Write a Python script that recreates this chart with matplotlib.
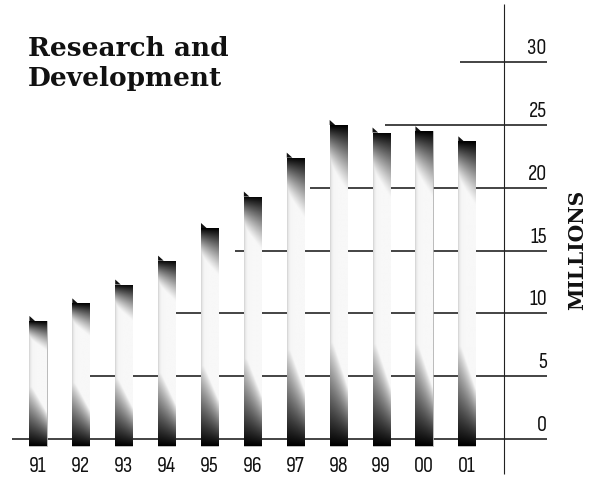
import numpy as np
import matplotlib
matplotlib.use('Agg')
import matplotlib.pyplot as plt
from matplotlib.patches import Polygon

# R&D spending, millions
years = ['91', '92', '93', '94', '95', '96', '97', '98', '99', '00', '01']
rd_millions = [9.4, 10.8, 12.3, 14.2, 16.8, 19.3, 22.4, 25.0, 24.4, 24.5, 23.7]
y_ticks = [0, 5, 10, 15, 20, 25, 30]

# where each horizontal rule starts (in bar-index units), stepped like the print
grid_start = [-0.61, 1.12, 3.10, 4.59, 6.34, 8.09, 9.84]
grid_end = 11.86
rule_x = 10.86

TITLE_FONT = ['DejaVu Serif']
NUM_FONT = ['Sofia Sans Condensed', 'Asap Condensed', 'DejaVu Sans']
BAR_W = 0.40
BAR_FLOOR = -0.55


def bar_shade(v, nx=40, ny=300):
    """Darkness map: heavy black foot, dark cap, pale middle."""
    h = v - BAR_FLOOR
    s = np.linspace(0, 1, nx)[None, :]
    u = np.linspace(h, 0, ny)[:, None]          # distance from bar bottom (row 0 = top)
    foot = 2.5 + 0.22 * v
    d_b = np.clip(1 - u / (foot * (1.15 - 0.55 * s)), 0, 1) ** 0.9
    cap = 0.5 + 0.17 * v
    d_t = np.clip(1 - (h - u) / (cap * (0.7 + 0.5 * s)), 0, 1) ** 1.3
    edge = 0.15 * np.exp(-s / 0.08)
    return np.maximum(np.maximum(d_b, d_t), 0.03 + edge)


fig = plt.figure(figsize=(5.9, 4.81), dpi=100)
ax = fig.add_axes([0, 0, 1, 1])
ax.set_axis_off()

x = np.arange(len(years))

# horizontal rules behind the bars
for t, xs in zip(y_ticks, grid_start):
    ax.hlines(t, xs, grid_end, color='#111111', lw=1.1, zorder=1)
    ax.text(grid_end, t + 0.4, str(t), ha='right', va='bottom', fontsize=16,
            fontweight=600, family=NUM_FONT, color='#111111')
ax.vlines(rule_x, -2.8, 34.6, color='#222222', lw=0.8, zorder=1)

bars = ax.bar(x, np.array(rd_millions) - BAR_FLOOR, BAR_W, bottom=BAR_FLOOR,
              facecolor='white', edgecolor='#a0a0a0', linewidth=0.5, zorder=2)
for rect, v in zip(bars, rd_millions):
    x0 = rect.get_x()
    im = ax.imshow(bar_shade(v), cmap='gray_r', vmin=0, vmax=1, aspect='auto',
                   extent=[x0, x0 + BAR_W, BAR_FLOOR, v], zorder=2.5,
                   interpolation='bilinear')
    im.set_clip_path(rect)
    # the little slanted flag on the top-left corner
    ax.add_patch(Polygon([[x0, v], [x0, v + 0.4], [x0 + 0.13, v]],
                         closed=True, facecolor='#111111', edgecolor='none', zorder=3))

for xi, lab in zip(x, years):
    ax.text(xi, -2.1, lab, ha='center', va='center', fontsize=16,
            fontweight=600, family=NUM_FONT, color='#111111')

ax.text(-0.23, 32.15, 'Research and\nDevelopment', ha='left', va='top',
        fontsize=19, fontweight='bold', family=TITLE_FONT, linespacing=1.22,
        color='#111111')
ax.text(12.58, 15.1, 'MILLIONS', rotation=90, ha='center', va='center',
        fontsize=14.5, fontweight='bold', family=TITLE_FONT, color='#111111')

ax.set_xlim(-0.886, 12.87)
ax.set_ylim(-3.26, 35.03)

fig.savefig('out.png', dpi=100)
